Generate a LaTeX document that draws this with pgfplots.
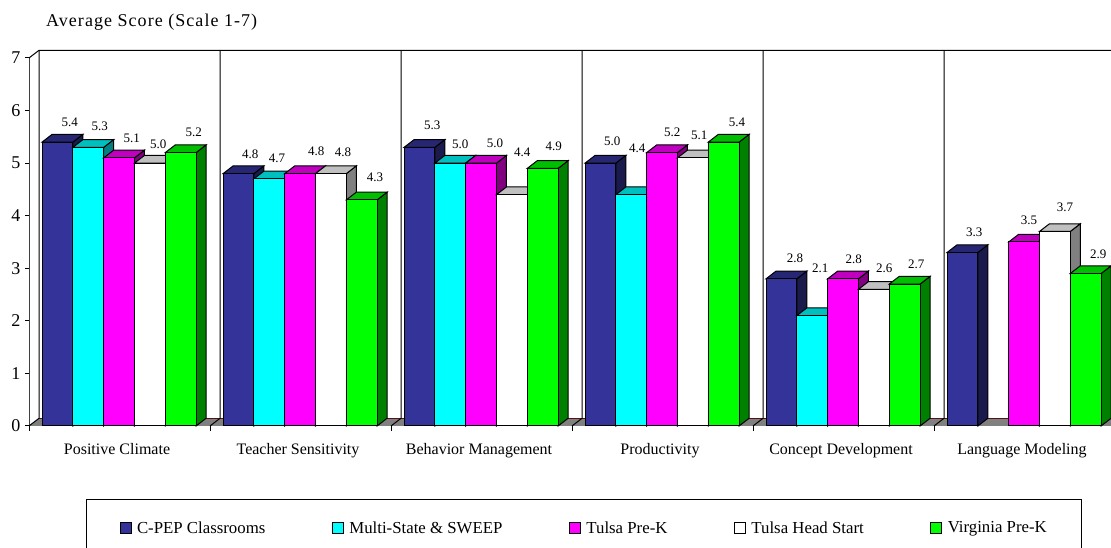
\documentclass[border=0pt]{standalone}
\usepackage{pgfplots}
\usepackage{pgfplotstable}
\usepackage{fontspec}
\setmainfont{Liberation Serif}
\pgfplotsset{compat=1.18}
% x: category; v: value; lx, ly: offset of the value label from the bar top, in px
\pgfplotstableread{
x v lx ly
0 5.4 12.2 19.4
1 4.8 11.8 19.4
2 5.3 12.8 21.7
3 5.0 11.8 21.5
4 2.8 13.5 20.1
5 3.3 11.8 20.5
}\cpep
\pgfplotstableread{
x v lx ly
0 5.3 11.2 21.4
1 4.7 7.5 20.6
2 5.0 9.8 18.5
3 4.4 5.8 46.4
4 2.1 7.8 47.3
5 nan 0 0
}\multi
\pgfplotstableread{
x v lx ly
0 5.1 12.2 19.6
1 4.8 15.8 22.4
2 5.0 13.5 19.9
3 5.2 9.8 19.9
4 2.8 10.2 19.5
5 3.5 4.5 21.3
}\tulsa
\pgfplotstableread{
x v lx ly
0 5.0 7.8 18.9
1 4.8 11.5 21.4
2 4.4 9.8 42.4
3 5.1 5.8 22.2
4 2.6 9.8 21.0
5 3.7 9.5 24.2
}\head
\pgfplotstableread{
x v lx ly
0 5.2 12.2 19.9
1 4.3 12.5 22.3
2 4.9 10.2 21.7
3 5.4 12.5 19.4
4 2.7 10.8 19.8
5 2.9 11.8 19.5
}\virginia
\definecolor{cA}{HTML}{333399}\definecolor{cAt}{HTML}{262673}\definecolor{cAs}{HTML}{1A1A4D}
\definecolor{cB}{HTML}{00FFFF}\definecolor{cBt}{HTML}{00BFBF}\definecolor{cBs}{HTML}{008080}
\definecolor{cC}{HTML}{FF00FF}\definecolor{cCt}{HTML}{BF00BF}\definecolor{cCs}{HTML}{800080}
\definecolor{cD}{HTML}{FFFFFF}\definecolor{cDt}{HTML}{C0C0C0}\definecolor{cDs}{HTML}{808080}
\definecolor{cE}{HTML}{00FF00}\definecolor{cEt}{HTML}{00BF00}\definecolor{cEs}{HTML}{008000}
\definecolor{floorline}{HTML}{5A1010}
\definecolor{baseline}{HTML}{8B5A5A}
\newcommand\bw{0.1702}
\newcommand\ddx{0.05525}
\newcommand\ddy{0.1465}
\newcommand\faces[4]{% table, slot, top colour, side colour
  \foreach \k in {0,...,5}{%
    \pgfplotstablegetelem{\k}{v}\of#1%
    \edef\v{\pgfplotsretval}\def\nanword{nan}%
    \ifx\v\nanword\else
      \pgfmathsetmacro\xa{\k+0.4975+(#2-3)*\bw+\bw/2}%
      \pgfmathsetmacro\xb{\xa+\ddx}%
      \pgfmathsetmacro\xc{\xa-\bw}%
      \pgfmathsetmacro\xd{\xb-\bw}%
      \pgfmathsetmacro\yb{\v+\ddy}%
      \edef\temp{\noexpand\addplot[forget plot,fill=#4,draw=black,line width=1pt] coordinates {(\xa,0)(\xb,\ddy)(\xb,\yb)(\xa,\v)} --cycle;
        \noexpand\addplot[forget plot,fill=#3,draw=black,line width=1pt] coordinates {(\xc,\v)(\xa,\v)(\xb,\yb)(\xd,\yb)} --cycle;}%
      \temp
    \fi}}
\newcommand\front[3]{% table, slot, colour
  \addplot[ybar,bar width=\bw,bar shift={(#2-3)*\bw},fill=#3,draw=black,line width=1pt,
    legend image code/.code={\draw[fill=#3,draw=black,line width=1pt] (0pt,-5.5pt) rectangle (11pt,5.5pt);\path (14.5pt,0pt);},
    visualization depends on={\thisrow{lx} \as \lblx},
    visualization depends on={\thisrow{ly} \as \lbly},
    nodes near coords,
    every node near coord/.append style={font=\fontsize{13}{15}\selectfont,anchor=center,
      xshift={(\lblx+0.5+(#2-3)*31)*1pt},yshift={\lbly*1pt},
      /pgf/number format/fixed,/pgf/number format/fixed zerofill,/pgf/number format/precision=1,/pgf/number format/assume math mode=true}]
    table[x expr=\thisrow{x}+0.4975,y=v]{#1};}
\begin{document}
\begin{tikzpicture}[x=1pt,y=1pt]
\path[use as bounding box] (0,0) rectangle (1111,548);
\begin{axis}[
  at={(29pt,122pt)},anchor=south west,
  scale only axis,width=1082pt,height=368pt,
  xmin=0,xmax=5.978,ymin=0,ymax=7,clip=false,
  axis x line=bottom,axis y line=left,axis line style={-,line width=1pt},
  x axis line style={draw=baseline},y axis line style={draw=black!75},
  xtick={0.5,1.5,2.5,3.5,4.5,5.5},
  xticklabels={Positive Climate,Teacher Sensitivity,Behavior Management,Productivity,Concept Development,Language Modeling},
  minor xtick={0,1,2,3,4,5},
  major x tick style={draw=none},
  minor x tick style={draw=black,line width=1pt},
  minor tick length=5pt,major tick length=4pt,
  tick align=outside,
  ytick={0,1,...,7},
  y tick style={black,line width=1pt},
  x tick label style={font=\fontsize{16}{18}\selectfont,yshift=-10pt,xshift=-2.5pt},
  y tick label style={font=\fontsize{18}{20}\selectfont,xshift=-1pt,/pgf/number format/assume math mode=true},
  legend columns=5,
  legend cell align=left,
  legend style={at={(axis cs:0.315,-1.39)},anchor=north west,draw=black,line width=1pt,
    font=\fontsize{16.8}{19}\selectfont,inner xsep=33pt,inner ysep=20pt,
    /tikz/every even column/.append style={column sep=64.5pt}},
]
% left wall, floor and back wall
\addplot[forget plot,fill=black!50,draw=none] coordinates {(0,0)(5.978,0)(5.978,\ddy)(\ddx,\ddy)} --cycle;
\addplot[forget plot,draw=floorline,line width=1pt] coordinates {(\ddx,\ddy)(5.978,\ddy)};
\addplot[forget plot,draw=black,line width=1pt] coordinates {(0,7)(\ddx,7.1465)(5.978,7.1465)};
\pgfplotsinvokeforeach{0,1,2,3,4,5}{
  \addplot[forget plot,draw=black,line width=1pt] coordinates {(#1,0)(#1+\ddx,\ddy)(#1+\ddx,7.1465)};
}
\faces{\cpep}{1}{cAt}{cAs}\front{\cpep}{1}{cA}\addlegendentry{C-PEP Classrooms}
\faces{\multi}{2}{cBt}{cBs}\front{\multi}{2}{cB}\addlegendentry{Multi-State \& SWEEP}
\faces{\tulsa}{3}{cCt}{cCs}\front{\tulsa}{3}{cC}\addlegendentry{Tulsa Pre-K}
\faces{\head}{4}{cDt}{cDs}\front{\head}{4}{cD}\addlegendentry{Tulsa Head Start}
\faces{\virginia}{5}{cEt}{cEs}\front{\virginia}{5}{cE}\addlegendentry{Virginia Pre-K}
\node[anchor=west,inner sep=0pt,font=\fontsize{18}{20}\selectfont\addfontfeature{LetterSpace=5.8}] at (axis cs:0.094,7.685) {Average Score (Scale 1-7)};
\end{axis}
\end{tikzpicture}
\end{document}
